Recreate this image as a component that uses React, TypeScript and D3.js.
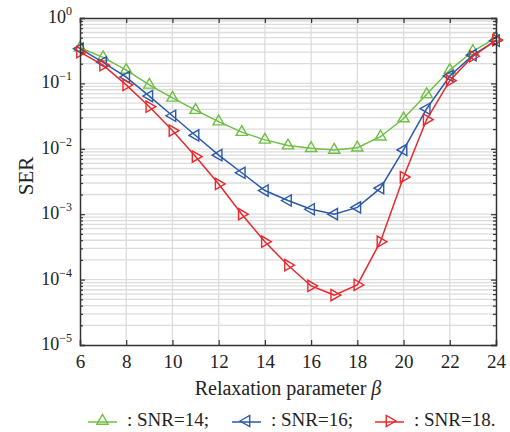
import React, { useEffect, useRef } from "react";
import * as d3 from "d3";

// relaxation parameter beta
const betas = [6, 7, 8, 9, 10, 11, 12, 13, 14, 15, 16, 17, 18, 19, 20, 21, 22, 23, 24];

// SER per SNR
const ser14 = [0.35, 0.25, 0.16, 0.095, 0.06, 0.039, 0.026, 0.018, 0.0137, 0.0112, 0.0102, 0.0096, 0.0104, 0.0153, 0.029, 0.068, 0.16, 0.31, 0.5];
const ser16 = [0.34, 0.21, 0.125, 0.064, 0.032, 0.016, 0.008, 0.0043, 0.0023, 0.00162, 0.00119, 0.001, 0.00127, 0.0025, 0.0096, 0.041, 0.13, 0.27, 0.45];
const ser18 = [0.3, 0.19, 0.095, 0.044, 0.019, 0.0076, 0.0029, 0.001, 0.00038, 0.000166, 0.00008, 0.000058, 0.000083, 0.00038, 0.0037, 0.028, 0.11, 0.26, 0.46];

const xTicks = [6, 8, 10, 12, 14, 16, 18, 20, 22, 24];
const yExps = [0, -1, -2, -3, -4, -5];

const seriesNames = ["SNR=14", "SNR=16", "SNR=18"];
const seriesColors = ["#6fbf45", "#2b5aa8", "#e8282c"];
const markerRot = [0, -90, 90];

const W = 510;
const H = 432;
const margin = { left: 80, right: 14, top: 18, bottom: 87 };
const FONT = "'Liberation Serif', 'Times New Roman', serif";

export default function App() {
  const ref = useRef<SVGSVGElement>(null);

  useEffect(() => {
    const svg = d3.select(ref.current);
    svg.selectAll("*").remove();

    const x = d3.scaleLinear().domain([6, 24]).range([margin.left, W - margin.right]);
    const y = d3.scaleLog().domain([1e-5, 1]).range([H - margin.bottom, margin.top]);

    const x0 = margin.left, x1 = W - margin.right;
    const y0 = H - margin.bottom, y1 = margin.top;

    const minors: number[] = [];
    for (let e = -5; e < 0; e++) for (let k = 2; k <= 9; k++) minors.push(k * Math.pow(10, e));
    const majors = yExps.map((e) => Math.pow(10, e));

    // grid
    const grid = svg.append("g").attr("stroke", "#dcdcdc").attr("stroke-width", 1.3);
    grid.selectAll(".hg").data([...minors, ...majors.slice(1, -1)]).join("line")
      .attr("x1", x0).attr("x2", x1)
      .attr("y1", (d) => y(d)).attr("y2", (d) => y(d));
    grid.selectAll(".vg").data(xTicks.slice(1, -1)).join("line")
      .attr("y1", y0).attr("y2", y1)
      .attr("x1", (d) => x(d)).attr("x2", (d) => x(d));

    // series
    const allSer = [ser14, ser16, ser18];
    const line = d3.line<number>().x((_, i) => x(betas[i])).y((d) => y(d));
    const tri = d3.symbol().type(d3.symbolTriangle).size(55);
    allSer.forEach((ser, si) => {
      const g = svg.append("g");
      g.append("path").attr("d", line(ser)).attr("fill", "none")
        .attr("stroke", seriesColors[si]).attr("stroke-width", 1.5);
      g.selectAll("path.m").data(ser).join("path").attr("class", "m")
        .attr("d", tri())
        .attr("transform", (d, i) => `translate(${x(betas[i])},${y(d)}) rotate(${markerRot[si]})`)
        .attr("fill", "none").attr("stroke", seriesColors[si]).attr("stroke-width", 1.4);
    });

    // axes box
    const axCol = "#333";
    const bottom = svg.append("g").attr("transform", `translate(0,${y0})`)
      .call(d3.axisBottom(x).tickValues(xTicks).tickSize(-5).tickPadding(10).tickFormat(d3.format("d")));
    const top = svg.append("g").attr("transform", `translate(0,${y1})`)
      .call(d3.axisTop(x).tickValues(xTicks).tickSize(-5).tickFormat(() => ""));
    const left = svg.append("g").attr("transform", `translate(${x0},0)`)
      .call(d3.axisLeft(y).tickValues(majors).tickSize(-5).tickFormat(() => ""));
    const leftMin = svg.append("g").attr("transform", `translate(${x0},0)`)
      .call(d3.axisLeft(y).tickValues(minors).tickSize(-3).tickFormat(() => ""));
    const right = svg.append("g").attr("transform", `translate(${x1},0)`)
      .call(d3.axisRight(y).tickValues(majors).tickSize(-5).tickFormat(() => ""));
    const rightMin = svg.append("g").attr("transform", `translate(${x1},0)`)
      .call(d3.axisRight(y).tickValues(minors).tickSize(-3).tickFormat(() => ""));
    [bottom, top, left, leftMin, right, rightMin].forEach((a) => {
      a.selectAll("path").attr("stroke", axCol).attr("stroke-width", 1.5);
      a.selectAll("line").attr("stroke", axCol).attr("stroke-width", 1.2);
    });
    leftMin.select("path").remove();
    rightMin.select("path").remove();
    bottom.selectAll("text").attr("font-family", FONT).attr("font-size", 19).attr("fill", "#222");

    // y tick labels 10^e
    const yl = svg.append("g").attr("font-family", FONT).attr("fill", "#222");
    yExps.forEach((e) => {
      const t = yl.append("text").attr("x", 72).attr("y", y(Math.pow(10, e)) + 5)
        .attr("text-anchor", "end").attr("font-size", 18);
      t.append("tspan").text("10");
      t.append("tspan").attr("font-size", 12).attr("dy", -8)
        .text(e === 0 ? "0" : "\u2212" + Math.abs(e));
    });

    // axis titles
    const xl = svg.append("text").attr("x", (x0 + x1) / 2).attr("y", 395)
      .attr("text-anchor", "middle").attr("font-family", FONT).attr("font-size", 20).attr("fill", "#222");
    xl.append("tspan").text("Relaxation parameter ");
    xl.append("tspan").attr("font-style", "italic").text("\u03b2");

    svg.append("text").attr("transform", `translate(33,176) rotate(-90)`)
      .attr("text-anchor", "middle").attr("font-family", FONT).attr("font-size", 21).attr("fill", "#222")
      .text("SER");

    // legend
    const legX = [88, 232, 375];
    const leg = svg.append("g").attr("font-family", FONT).attr("font-size", 19).attr("fill", "#222");
    seriesNames.forEach((name, i) => {
      const lx = legX[i], ly = 422;
      leg.append("line").attr("x1", lx).attr("x2", lx + 29).attr("y1", ly).attr("y2", ly)
        .attr("stroke", seriesColors[i]).attr("stroke-width", 1.5);
      leg.append("path").attr("d", tri())
        .attr("transform", `translate(${lx + 14.5},${ly - 1}) rotate(${markerRot[i]})`)
        .attr("fill", "none").attr("stroke", seriesColors[i]).attr("stroke-width", 1.4);
      leg.append("text").attr("x", lx + 39).attr("y", ly + 4)
        .text(`: ${name}${i === seriesNames.length - 1 ? "." : ";"}`);
    });
  }, []);

  return <svg ref={ref} width={W} height={H} style={{ display: "block", position: "absolute", left: 0, top: 0 }} />;
}
